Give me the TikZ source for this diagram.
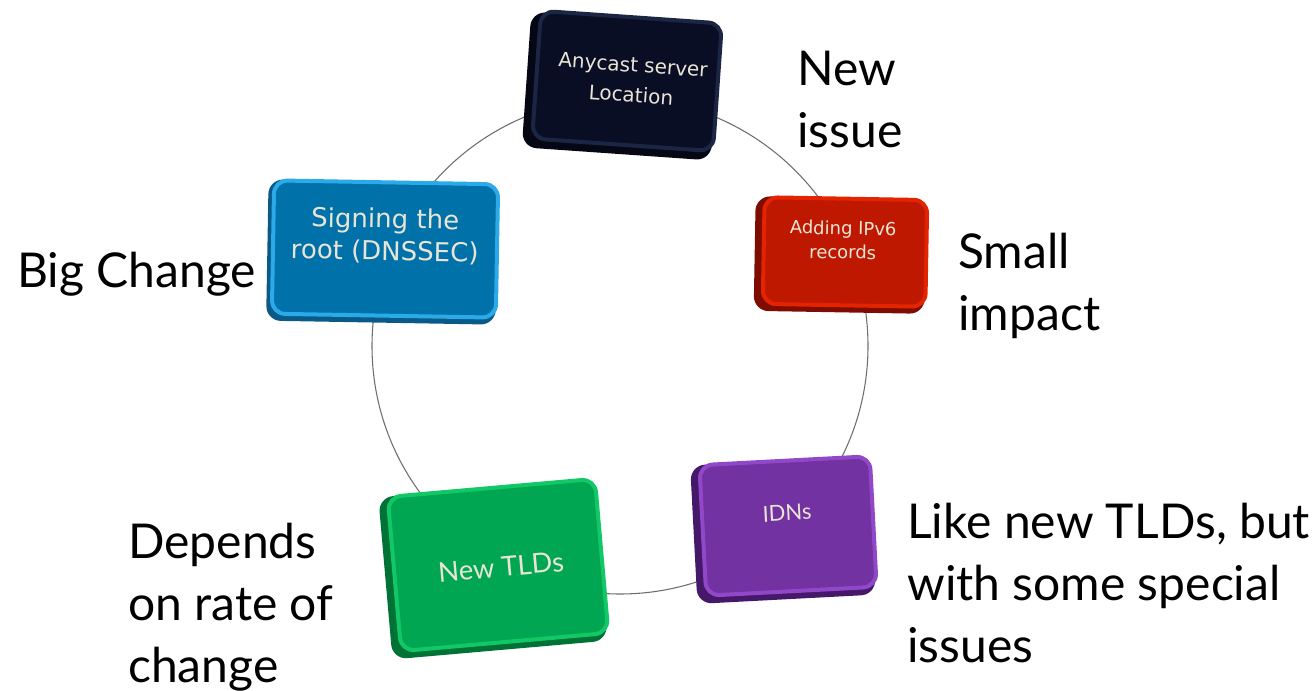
\documentclass[tikz,border=0pt]{standalone}
\usepackage{fontspec}
\setmainfont{Lato}
\newfontfamily\boxfont{DejaVu Sans}
\newfontfamily\gillfont{Lato}
\definecolor{ringgray}{HTML}{6E6E6E}
\definecolor{boxtext}{HTML}{E9E5D6}
\definecolor{navyF}{HTML}{0A0E24}
\definecolor{navyE}{HTML}{1B2645}
\definecolor{navyS}{HTML}{050814}
\definecolor{blueF}{HTML}{0071A9}
\definecolor{blueE}{HTML}{2AAAE8}
\definecolor{blueS}{HTML}{0A5A88}
\definecolor{redF}{HTML}{BE1800}
\definecolor{redE}{HTML}{E42400}
\definecolor{redS}{HTML}{7E0C00}
\definecolor{greenF}{HTML}{00A651}
\definecolor{greenE}{HTML}{12C866}
\definecolor{greenS}{HTML}{007236}
\definecolor{purpF}{HTML}{7232A2}
\definecolor{purpE}{HTML}{9048C8}
\definecolor{purpS}{HTML}{45186A}
\tikzset{
  ring/.style={circle, draw=ringgray, line width=0.8pt, inner sep=0pt},
  boxedge/.style={rounded corners=11pt, inner sep=0pt},
  boxmain/.style={rounded corners=10pt, inner sep=0pt, line width=3pt},
  boxlabel/.style={text=boxtext, align=center, inner sep=0pt},
  remark/.style={anchor=north west, align=left, inner sep=0pt, text=black,
    font=\fontsize{36}{46.5}\selectfont}
}
\begin{document}
\begin{tikzpicture}[x=0.75pt,y=-0.75pt]
\useasboundingbox (0,0) rectangle (1315,691);
% ring
\node[ring, minimum size=372pt] (ringc) at (620,346) {};
% Anycast
\node[boxedge, fill=navyS, rotate=-4, minimum width=142pt, minimum height=102pt] (anyS) at (621,86) {};
\node[boxmain, fill=navyF, draw=navyE, rotate=-4, minimum width=136pt, minimum height=96pt] (any) at (627,81) {};
\node[boxlabel, rotate=-4, font=\boxfont\fontsize{15}{22.5}\selectfont] (any-t) at (632,80) {Anycast server\\Location};
% Signing
\node[boxedge, fill=blueS, rotate=-1, minimum width=172pt, minimum height=106pt] (sigS) at (382,252) {};
\node[boxmain, fill=blueF, draw=blueE, rotate=-1, minimum width=168pt, minimum height=100pt] (sig) at (385,249) {};
\node[boxlabel, rotate=-1, font=\boxfont\fontsize{19.5}{24}\selectfont] (sig-t) at (385,236) {Signing the\\root (DNSSEC)};
% IPv6
\node[boxedge, fill=redS, rotate=-1, minimum width=128pt, minimum height=86pt] (ipS) at (840,255) {};
\node[boxmain, fill=redF, draw=redE, rotate=-1, minimum width=122pt, minimum height=80pt] (ip) at (845,252) {};
\node[boxlabel, rotate=-1, font=\boxfont\fontsize{13.5}{18}\selectfont] (ip-t) at (843,240) {Adding IPv6\\records};
% New TLDs
\node[boxedge, fill=greenS, rotate=5, minimum width=162pt, minimum height=122pt] (tldS) at (493,569) {};
\node[boxmain, fill=greenF, draw=greenE, rotate=5, minimum width=156pt, minimum height=116pt] (tld) at (498,565) {};
\node[boxlabel, rotate=5, font=\gillfont\fontsize{20.5}{24}\selectfont] (tld-t) at (501,567) {New TLDs};
% IDNs
\node[boxedge, fill=purpS, rotate=3, minimum width=134pt, minimum height=104pt] (idnS) at (783,530) {};
\node[boxmain, fill=purpF, draw=purpE, rotate=3, minimum width=128pt, minimum height=98pt] (idn) at (788,526) {};
\node[boxlabel, rotate=3, font=\gillfont\fontsize{16.5}{20}\selectfont] (idn-t) at (787,513) {IDNs};
% remarks
\node[remark] (r1) at (797,51) {New\\issue};
\node[remark] (r2) at (958,233) {Small\\impact};
\node[remark] (r3) at (17,252) {Big Change};
\node[remark] (r4) at (128,523) {Depends\\on rate of\\change};
\node[remark] (r5) at (907,503) {Like new TLDs, but\\with some special\\issues};
\end{tikzpicture}
\end{document}
